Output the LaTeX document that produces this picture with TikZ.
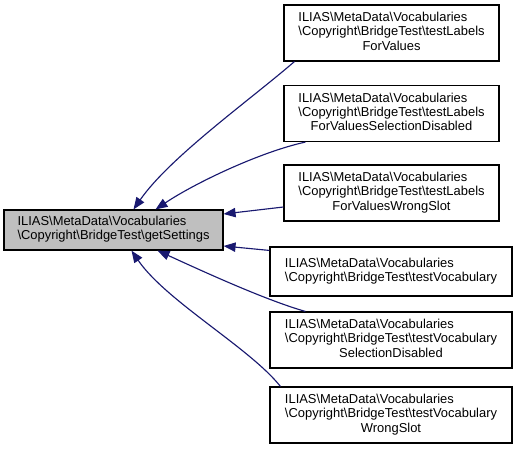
\documentclass[tikz,border=0pt]{standalone}
\usepackage{fontspec}
\setmainfont{Liberation Sans}
\usetikzlibrary{arrows.meta,calc}
\definecolor{edgec}{HTML}{191970}
\definecolor{mainfill}{HTML}{BFBFBF}
\newcommand\bs{\textbackslash}
\newcommand\lbl[2]{\begin{tabular}{@{}l@{}}#1\\\multicolumn{1}{@{}c@{}}{#2}\end{tabular}}
\newcommand\lblthree[3]{\begin{tabular}{@{}l@{}}#1\\#2\\\multicolumn{1}{@{}c@{}}{#3}\end{tabular}}
\begin{document}
\begin{tikzpicture}[x=0.75pt,y=-0.75pt,
  box/.style={draw=black, line width=0.85pt, fill=white, inner sep=0pt,
    font=\fontsize{9.7}{10.7}\selectfont},
  tall/.style={minimum width=161.25pt, minimum height=42pt},
  wide/.style={minimum width=181.5pt, minimum height=42pt},
  edge/.style={draw=edgec, line width=0.85pt, {Triangle[length=9pt,width=7pt]}-}]
\useasboundingbox (0,0) rectangle (517,453);
\node[box, fill=mainfill, minimum width=164.25pt, minimum height=30pt] (main) at (113.5,230)
  {\lbl{ILIAS\bs MetaData\bs Vocabularies}{\bs Copyright\bs BridgeTest\bs getSettings}};
\node[box, tall] (n1) at (391.5,33)
  {\lblthree{ILIAS\bs MetaData\bs Vocabularies}{\bs Copyright\bs BridgeTest\bs testLabels}{ForValues}};
\node[box, tall] (n2) at (391.5,113.5)
  {\lblthree{ILIAS\bs MetaData\bs Vocabularies}{\bs Copyright\bs BridgeTest\bs testLabels}{ForValuesSelectionDisabled}};
\node[box, tall] (n3) at (391.5,193)
  {\lblthree{ILIAS\bs MetaData\bs Vocabularies}{\bs Copyright\bs BridgeTest\bs testLabels}{ForValuesWrongSlot}};
\node[box, wide, minimum height=36.75pt] (n4) at (391,271.5)
  {\lbl{ILIAS\bs MetaData\bs Vocabularies}{\bs Copyright\bs BridgeTest\bs testVocabulary}};
\node[box, wide] (n5) at (391,340)
  {\lblthree{ILIAS\bs MetaData\bs Vocabularies}{\bs Copyright\bs BridgeTest\bs testVocabulary}{SelectionDisabled}};
\node[box, wide] (n6) at (391,415)
  {\lblthree{ILIAS\bs MetaData\bs Vocabularies}{\bs Copyright\bs BridgeTest\bs testVocabulary}{WrongSlot}};
% edges
\draw[edge] ($(main.north)+(20,0)$) .. controls (170,157) and (250,100) .. ($(n1.south west)+(11,0)$);
\draw[edge] ($(main.north)+(42,0)$) .. controls (195,183) and (260,152) .. ($(n2.south west)+(22,0)$);
\draw[edge] ($(main.east)+(0,-16)$) -- ($(n3.west)+(0,14)$);
\draw[edge] ($(main.east)+(0,16)$) -- ($(n4.north west)+(0,4)$);
\draw[edge] ($(main.south)+(44,0)$) .. controls (200,270) and (265,300) .. ($(n5.north west)+(36,0)$);
\draw[edge] ($(main.south)+(18,0)$) .. controls (166,301) and (250,348) .. ($(n6.north west)+(11,0)$);
\end{tikzpicture}
\end{document}
